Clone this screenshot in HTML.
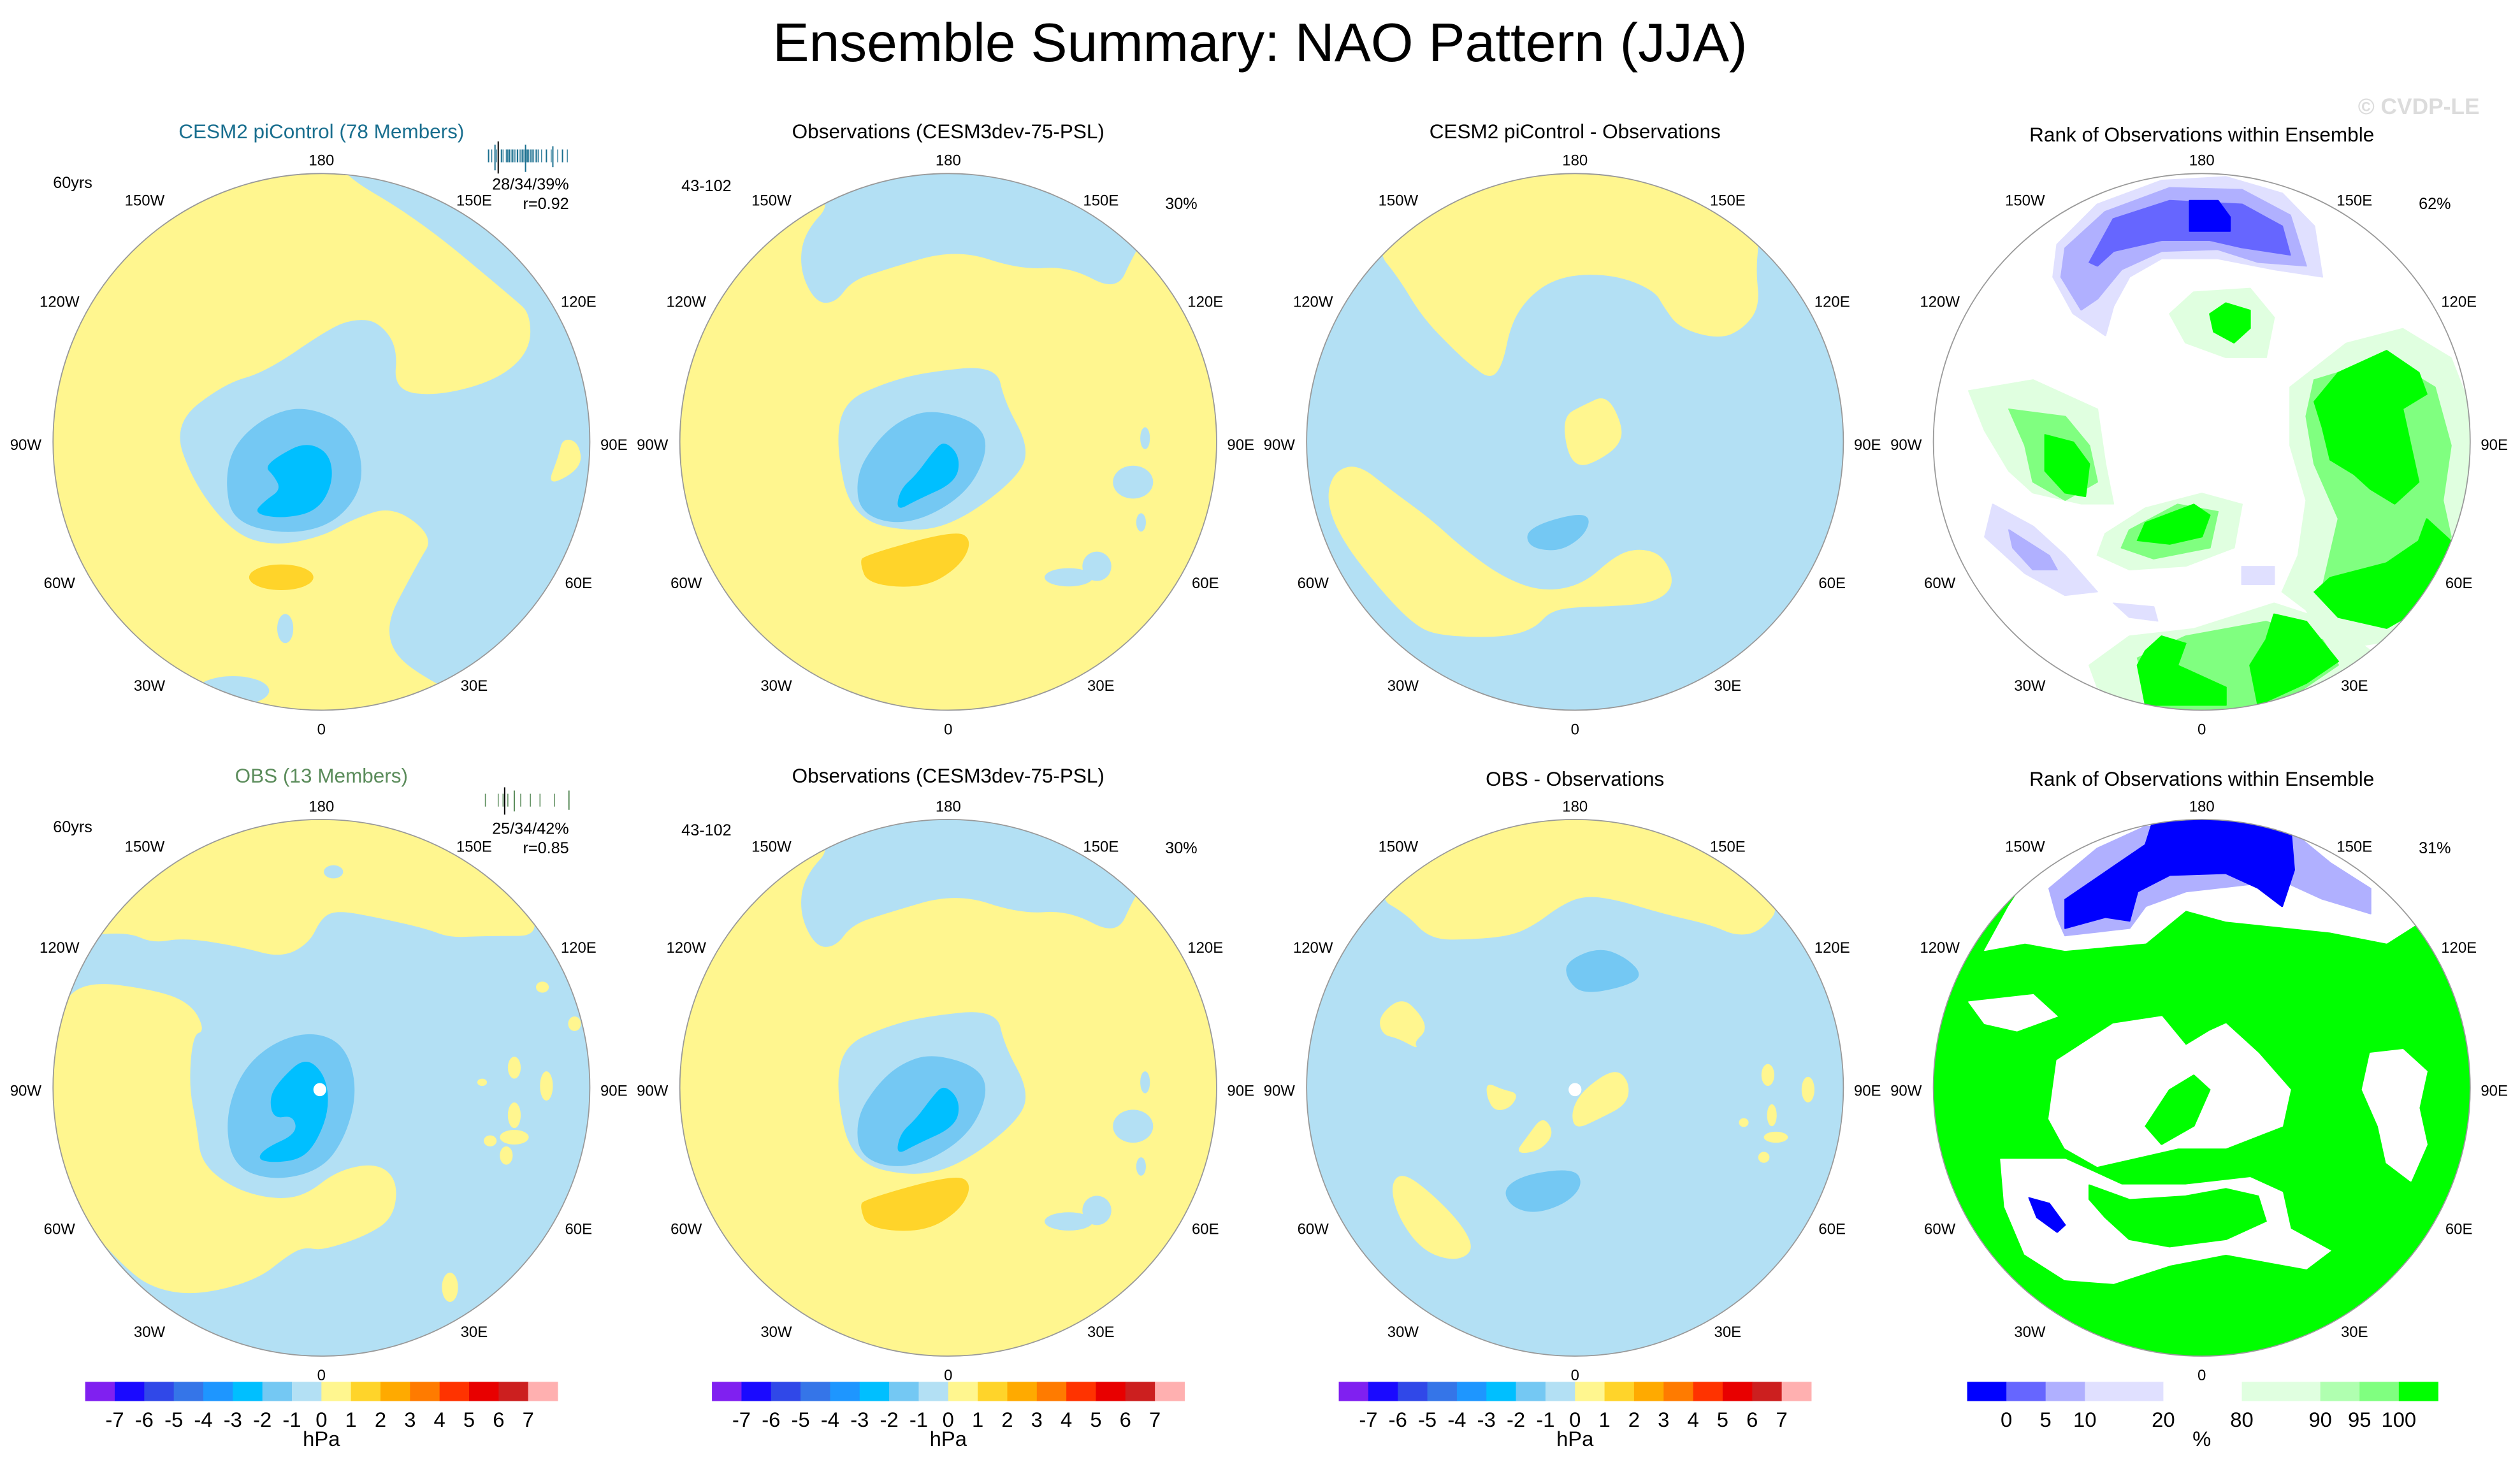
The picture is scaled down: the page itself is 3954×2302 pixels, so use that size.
<!DOCTYPE html>
<html><head><meta charset="utf-8">
<style>
html,body{margin:0;padding:0;background:#fff;}
svg{display:block;}
text{font-family:"Liberation Sans",sans-serif;}
</style></head>
<body>
<svg id="fig" width="3954" height="2302" viewBox="0 0 1568 913" preserveAspectRatio="none" xmlns="http://www.w3.org/2000/svg">
<text x="784" y="38" font-size="34" text-anchor="middle">Ensemble Summary: NAO Pattern (JJA)</text>
<text x="1505" y="71" font-size="14" font-weight="bold" fill="#dcdcdc" text-anchor="middle">© CVDP-LE</text>
<g id="panels"></g>
<g id="bars"></g>
</svg>
<script>
const NS='http://www.w3.org/2000/svg';
const Y='#fff68f',LB='#b3e0f4',M1='#74c8f3',M2='#00bfff',OR='#ffd42a';
const DB='#0000ff',B5='#6666ff',B10='#b0b0ff',B20='#e0e0ff',G80='#e0ffe0',G90='#b0ffb0',G95='#80ff80',G100='#00ff00';
// colorbar data
const hpaLevels=[-7,-6,-5,-4,-3,-2,-1,0,1,2,3,4,5,6,7];
const hpaColors=['#8020f0','#1a0aff','#3048e8','#3575e8','#1e96ff','#00bfff','#74c8f3','#b3e0f4','#fff68f','#ffd42a','#ffaa00','#ff7b00','#ff3300','#e80000','#cc1f1f','#ffb0b0'];
const rankLevels=[0,5,10,20,80,90,95,100];
const rankColors=['#0000ff','#6666ff','#b0b0ff','#e0e0ff','#ffffff','#e0ffe0','#b0ffb0','#80ff80','#00ff00'];
const rankWidths=[1,1,1,2,2,2,1,1,1];

let SMOOTH=true;
function el(tag,attrs,parent){const e=document.createElementNS(NS,tag);for(const k in attrs)e.setAttribute(k,attrs[k]);parent.appendChild(e);return e;}
function txt(parent,x,y,s,size,anchor,fill,name){const t=el('text',{x:x,y:y,'font-size':size,'text-anchor':anchor||'middle',fill:fill||'#000'},parent);t.textContent=s;


return t;}
function smoothPath(pts){
  const n=pts.length;const mid=(a,b)=>[(a[0]+b[0])/2,(a[1]+b[1])/2];
  let m=mid(pts[n-1],pts[0]);let d='M'+m[0]+','+m[1];
  for(let i=0;i<n;i++){const c=pts[i];const e=mid(c,pts[(i+1)%n]);d+=' Q'+c[0]+','+c[1]+' '+e[0]+','+e[1];}
  return d+'Z';
}
function poly(g,pts,fill,name){let p;
  if(SMOOTH){p=el('path',{d:smoothPath(pts),fill:fill},g);}
  else{p=el('polygon',{points:pts.map(a=>a.join(',')).join(' '),fill:fill,'stroke':fill,'stroke-width':2,'stroke-linejoin':'round'},g);}


return p;}
function ell(g,cx,cy,rx,ry,fill,name){const p=el('ellipse',{cx:cx,cy:cy,rx:rx,ry:ry,fill:fill},g);


return p;}

const panelsG=document.getElementById('panels');
let clipId=0;
function panel(cx,cy,cz,cy0,bg,draw,name,smooth){
  SMOOTH=smooth;
  const g=el('g',{},panelsG);
  
  
  const cp=el('clipPath',{id:'c'+(++clipId)},g);
  el('circle',{cx:cx,cy:cy,r:167},cp);
  const bgc=el('circle',{cx:cx,cy:cy,r:167,fill:bg},g);
  
  
  const cg=el('g',{'clip-path':'url(#c'+clipId+')'},g);
  const inner=el('g',{transform:`translate(${cx},${cy}) scale(0.5,${1/4.39}) translate(${-cz},${-cy0})`},cg);
  draw(inner);
  const border=el('circle',{cx:cx,cy:cy,r:167,fill:'none',stroke:'#999','stroke-width':0.7},g);
  
  
  const L=[['180',0,-172],['0',0,182],['150W',-110,-147],['150E',95,-147],['120W',-163,-84],['120E',160,-84],['90W',-184,5],['90E',182,5],['60W',-163,91],['60E',160,91],['30W',-107,155],['30E',95,155]];
  L.forEach(l=>txt(g,cx+l[1],cy+l[2],l[0],9.5,'middle','#000','lon-label'));
}

function drawA(g){
  poly(g,[[410,40],[520,180],[640,400],[660,440],[660,540],[620,620],[545,665],[490,650],[495,530],[470,460],[440,455],[410,480],[330,600],[280,630],[215,740],[240,900],[290,1040],[340,1075],[400,1050],[440,1000],[490,965],[540,1050],[520,1120],[470,1330],[540,1460],[800,1700],[1000,790],[800,-100],[420,-80]],LB,'negative-region');
  ell(g,290,1470,45,40,LB,'negative-region');
  ell(g,355,1300,10,40,LB,'negative-region');
  poly(g,[[700,780],[720,790],[725,860],[680,915],[695,830]],Y,'positive-region');
  poly(g,[[380,690],[440,750],[455,900],[420,1010],[360,1045],[290,1010],[280,900],[290,800],[330,720]],M1,'minus1-region');
  poly(g,[[380,790],[410,820],[415,900],[395,980],[350,1000],[315,985],[330,950],[350,920],[340,880],[330,860],[345,830]],M2,'minus2-region');
  ell(g,350,1160,40,35,OR,'plus1-region');
}
function drawB(g){
  poly(g,[[1040,125],[1000,220],[995,320],[1015,410],[1040,410],[1060,350],[1100,320],[1190,262],[1270,320],[1330,310],[1390,380],[1410,280],[1470,60],[1180,0],[960,60]],LB,'negative-region');
  poly(g,[[1150,600],[1240,580],[1250,680],[1280,800],[1270,880],[1200,1000],[1140,1040],[1060,1000],[1040,800],[1050,680],[1100,630]],LB,'negative-region');
  poly(g,[[1160,700],[1220,740],[1230,820],[1200,940],[1130,1020],[1070,990],[1065,880],[1090,790],[1120,730]],M1,'minus1-region');
  poly(g,[[1175,785],[1195,830],[1190,900],[1140,950],[1115,980],[1120,920],[1140,880],[1160,820]],M2,'minus2-region');
  poly(g,[[1075,1100],[1190,1030],[1210,1060],[1195,1130],[1150,1190],[1080,1180],[1070,1120]],OR,'plus1-region');
  ell(g,1410,900,25,45,LB,'negative-spot');
  ell(g,1425,780,6,30,LB,'negative-spot');
  ell(g,1420,1010,6,25,LB,'negative-spot');
  ell(g,1330,1160,30,25,LB,'negative-spot');
  ell(g,1365,1130,18,40,LB,'negative-spot');
}
function drawC(g){
  poly(g,[[140,260],[200,60],[390,20],[560,60],[620,220],[615,320],[620,420],[600,480],[570,510],[520,480],[500,420],[490,380],[450,340],[400,330],[360,350],[330,400],[310,470],[300,580],[285,620],[260,580],[240,540],[200,450],[170,340]],Y,'positive-region');
  poly(g,[[430,660],[450,750],[445,800],[420,840],[395,860],[380,820],[375,720],[400,690]],Y,'positive-region');
  poly(g,[[120,850],[160,920],[210,1000],[250,1080],[300,1160],[350,1200],[400,1180],[440,1100],[470,1080],[500,1100],[515,1180],[490,1230],[430,1240],[400,1240],[360,1250],[340,1300],[300,1325],[220,1320],[190,1290],[150,1200],[100,1060],[80,950],[90,870]],Y,'positive-region');
  poly(g,[[395,985],[410,1000],[400,1050],[370,1090],[335,1080],[328,1040],[350,1010]],M1,'minus1-region');
}
function drawD(g){
  poly(g,[[880,650],[960,620],[1040,700],[1050,850],[1060,960],[1020,960],[960,930],[930,870],[900,760]],G80,'rank-80-90');
  poly(g,[[1130,440],[1160,380],[1230,370],[1260,450],[1250,560],[1200,560],[1150,520]],G80,'rank-80-90');
  poly(g,[[1280,640],[1350,520],[1420,480],[1480,560],[1505,700],[1505,1000],[1480,1250],[1420,1330],[1330,1360],[1300,1250],[1270,1200],[1290,1100],[1300,950],[1280,800]],G80,'rank-80-90');
  poly(g,[[1050,1040],[1100,970],[1170,930],[1220,960],[1210,1080],[1150,1130],[1080,1140],[1040,1100]],G80,'rank-80-90');
  poly(g,[[1030,1400],[1080,1320],[1160,1300],[1260,1230],[1330,1280],[1380,1360],[1330,1440],[1250,1540],[1100,1540],[1040,1460]],G80,'rank-80-90');
  poly(g,[[1310,620],[1400,560],[1460,640],[1480,800],[1470,950],[1480,1050],[1440,1200],[1360,1260],[1320,1190],[1340,1000],[1310,850],[1300,720]],G95,'rank-95-100');
  poly(g,[[930,700],[1000,720],[1030,800],[1040,900],[1000,950],[960,900],[950,800]],G95,'rank-95-100');
  poly(g,[[1080,1030],[1140,960],[1190,980],[1180,1080],[1110,1110],[1070,1080]],G95,'rank-95-100');
  poly(g,[[1090,1380],[1150,1320],[1250,1280],[1320,1330],[1340,1400],[1260,1520],[1110,1530]],G95,'rank-95-100');
  poly(g,[[1340,600],[1400,540],[1440,600],[1450,660],[1420,700],[1430,800],[1440,900],[1410,960],[1380,920],[1360,880],[1330,840],[1320,750],[1310,680]],G100,'rank-100');
  poly(g,[[1450,1000],[1480,1060],[1470,1150],[1440,1250],[1400,1300],[1340,1270],[1310,1200],[1330,1160],[1400,1120],[1440,1060]],G100,'rank-100');
  poly(g,[[1120,1320],[1150,1340],[1140,1400],[1200,1460],[1200,1510],[1100,1510],[1090,1400],[1100,1360]],G100,'rank-100');
  poly(g,[[1260,1260],[1300,1280],[1340,1390],[1300,1450],[1240,1510],[1230,1400],[1250,1330]],G100,'rank-100');
  poly(g,[[1200,410],[1230,430],[1230,480],[1210,520],[1185,490],[1180,440]],G100,'rank-100');
  poly(g,[[1160,960],[1180,990],[1170,1050],[1130,1070],[1090,1060],[1100,1010]],G100,'rank-100');
  poly(g,[[975,770],[1010,790],[1030,850],[1025,940],[1000,930],[975,870]],G100,'rank-100');
  poly(g,[[990,250],[1040,140],[1120,75],[1200,65],[1270,110],[1310,200],[1320,340],[1260,320],[1190,290],[1120,290],[1080,340],[1060,420],[1050,500],[1010,440],[985,340]],B20,'rank-10-20');
  poly(g,[[1000,260],[1050,160],[1130,95],[1220,100],[1280,170],[1300,310],[1240,300],[1190,265],[1120,270],[1070,320],[1040,400],[1020,430],[995,340]],B10,'rank-5-10');
  poly(g,[[1030,300],[1060,180],[1130,130],[1220,140],[1270,200],[1280,280],[1220,260],[1180,240],[1120,240],[1060,270],[1040,310]],B5,'rank-0-5');
  poly(g,[[1155,130],[1190,130],[1205,175],[1205,215],[1155,215]],DB,'rank-0');
  poly(g,[[910,960],[960,1020],[1000,1100],[1040,1200],[1000,1210],[950,1150],[900,1050]],B20,'rank-10-20');
  poly(g,[[930,1030],[980,1100],[990,1140],[960,1140],[935,1080]],B10,'rank-5-10');
  poly(g,[[1060,1230],[1110,1240],[1115,1280],[1080,1270]],B20,'rank-10-20');
  poly(g,[[1220,1130],[1260,1130],[1260,1180],[1220,1180]],B20,'rank-10-20');
}
function drawE(g){
  poly(g,[[200,100],[390,20],[580,80],[690,380],[600,380],[560,385],[530,360],[470,330],[420,310],[400,330],[385,400],[350,440],[300,410],[230,385],[190,400],[160,370],[100,380],[130,250]],Y,'positive-region');
  poly(g,[[100,500],[200,530],[240,570],[255,640],[240,650],[235,790],[245,900],[250,1000],[290,1070],[340,1100],[380,1090],[420,1020],[470,1000],[495,1050],[490,1150],[455,1200],[400,1240],[380,1230],[360,1250],[320,1320],[250,1360],[200,1350],[160,1300],[80,1100],[40,900],[40,700],[70,600]],Y,'positive-region');
  ell(g,415,205,12,18,LB,'negative-spot');
  [[640,740,8,30],[680,790,8,40],[600,780,6,10],[640,870,8,35],[610,940,8,15],[640,930,18,20],[630,980,8,25],[715,620,8,20],[675,520,8,15],[560,1340,10,40]].forEach(e=>ell(g,e[0],e[1],e[2],e[3],Y,'positive-spot'));
  poly(g,[[390,640],[430,680],[445,800],[430,930],[400,1020],[340,1050],[290,1010],[280,880],[300,750],[340,670]],M1,'minus1-region');
  poly(g,[[380,710],[405,760],[410,850],[395,940],[375,990],[340,1000],[320,990],[330,960],[370,920],[365,870],[340,880],[335,820],[350,770]],M2,'minus2-region');
  ell(g,398,800,8,18,'#ffffff','missing-data');
}
function drawG(g){
  poly(g,[[140,270],[210,60],[390,20],[580,80],[650,290],[620,370],[590,380],[560,350],[500,320],[440,280],[400,270],[370,300],[340,350],[310,380],[260,390],[210,390],[180,320]],Y,'positive-region');
  poly(g,[[420,410],[455,440],[475,490],[450,520],[400,540],[380,500],[378,450]],M1,'minus1-region');
  poly(g,[[175,545],[200,600],[205,640],[190,670],[195,690],[170,660],[150,650],[145,600]],Y,'positive-region');
  poly(g,[[440,740],[458,780],[455,840],[420,880],[390,910],[385,860],[400,800]],Y,'positive-region');
  poly(g,[[350,870],[365,920],[345,970],[315,975],[330,930]],Y,'positive-region');
  poly(g,[[280,780],[300,800],[320,810],[310,850],[290,860],[280,820]],Y,'positive-region');
  ell(g,390,800,8,18,'#ffffff','missing-data');
  poly(g,[[390,1015],[400,1060],[380,1110],[340,1140],[310,1120],[300,1070],[330,1030]],M1,'minus1-region');
  poly(g,[[175,1025],[210,1080],[250,1170],[265,1240],[240,1270],[200,1240],[170,1150],[160,1060]],Y,'positive-region');
  [[630,760,8,30],[680,800,8,35],[635,870,6,30],[640,930,15,15],[625,985,7,15],[600,890,6,12]].forEach(e=>ell(g,e[0],e[1],e[2],e[3],Y,'positive-spot'));
}
function drawH(g){
  poly(g,[[960,200],[1000,130],[1100,60],[1260,70],[1380,180],[1450,330],[1400,400],[1330,370],[1200,340],[1150,310],[1100,400],[1000,420],[950,400],[900,420],[930,300]],'#ffffff','rank-20-80');
  poly(g,[[980,250],[1040,140],[1100,80],[1280,90],[1330,180],[1380,250],[1380,320],[1320,280],[1280,240],[1230,240],[1150,260],[1100,300],[1080,360],[1000,380],[990,330]],B10,'rank-5-10');
  poly(g,[[1000,280],[1060,190],[1100,130],[1110,60],[1280,70],[1285,200],[1270,300],[1240,250],[1200,210],[1130,215],[1090,260],[1080,340],[1050,330],[1000,360]],DB,'rank-0');
  poly(g,[[990,720],[1060,620],[1120,600],[1150,680],[1180,640],[1200,620],[1240,700],[1280,800],[1270,900],[1200,960],[1140,960],[1100,980],[1040,1010],[1000,960],[980,880]],'#ffffff','rank-20-80');
  poly(g,[[1100,900],[1130,800],[1160,760],[1180,800],[1160,900],[1120,950]],G100,'rank-100');
  poly(g,[[920,990],[1000,990],[1070,1060],[1150,1060],[1230,1040],[1270,1080],[1280,1180],[1330,1240],[1300,1290],[1200,1250],[1130,1280],[1060,1330],[1000,1320],[950,1250],[925,1120]],'#ffffff','rank-20-80');
  poly(g,[[1030,1060],[1080,1100],[1150,1090],[1200,1070],[1240,1090],[1250,1160],[1200,1210],[1130,1230],[1080,1210],[1050,1150],[1030,1100]],G100,'rank-100');
  poly(g,[[955,1095],[980,1110],[1000,1170],[990,1190],[965,1150]],DB,'rank-0');
  poly(g,[[1380,700],[1420,690],[1450,750],[1440,850],[1450,950],[1430,1050],[1400,1000],[1390,900],[1370,800]],'#ffffff','rank-20-80');
  poly(g,[[880,560],[960,540],[990,600],[940,640],[900,620]],'#ffffff','rank-20-80');
}

const cols=[200,590,980,1370];
panel(200,275,400,790,Y,drawA,'map-cesm2-picontrol',true);
panel(590,275,1180,790,Y,drawB,'map-observations-top',true);
panel(980,275,390,790,LB,drawC,'map-cesm2-minus-obs',true);
panel(1370,275,1170,790,'#ffffff',drawD,'map-rank-top',false);
panel(200,677,400,795,LB,drawE,'map-obs-ensemble',true);
panel(590,677,1180,795,Y,drawB,'map-observations-bottom',true);
panel(980,677,390,795,LB,drawG,'map-obs-minus-obs',true);
panel(1370,677,1170,795,G100,drawH,'map-rank-bottom',false);

// titles and annotations
const ann=document.getElementById('panels');
[[0,'CESM2 piControl (78 Members)','#1a6f8f'],[1,'Observations (CESM3dev-75-PSL)','#000'],[2,'CESM2 piControl - Observations','#000'],[3,'Rank of Observations within Ensemble','#000']].forEach(t=>txt(ann,cols[t[0]],86+(t[0]==3?2:0),t[1],12.5,'middle',t[2],'panel-title'));
[[0,'OBS (13 Members)','#5b8c5b'],[1,'Observations (CESM3dev-75-PSL)','#000'],[2,'OBS - Observations','#000'],[3,'Rank of Observations within Ensemble','#000']].forEach(t=>txt(ann,cols[t[0]],487+(t[0]>=2?2:0),t[1],12.5,'middle',t[2],'panel-title'));
[0,401].forEach(dy=>{
  txt(ann,33,117+dy,'60yrs',10,'start','#000','years-label');
  txt(ann,424,119+dy,'43-102',10,'start','#000','years-label');
  txt(ann,735,130+dy,'30%',10,'middle','#000','percent-label');
});
txt(ann,354,118,'28/34/39%',10,'end','#000','percent-label');
txt(ann,354,130,'r=0.92',10,'end','#000','corr-label');
txt(ann,354,519,'25/34/42%',10,'end','#000','percent-label');
txt(ann,354,531,'r=0.85',10,'end','#000','corr-label');
txt(ann,1515,130,'62%',10,'middle','#000','percent-label');
txt(ann,1515,531,'31%',10,'middle','#000','percent-label');
// barcodes
const bc1=[304,306,309,312,313,315,316,317,318,319,320,321,322,323,324,325,326,327,328,329,330,331,332,333,334,335,337,340,343,347,350,353];
const bc2=[302,310,313,316,320,324,330,336,345,354];
const bg1=el('g',{},ann);


bc1.forEach((x,i)=>el('line',{x1:x,x2:x,y1:93,y2:101,stroke:'#1a6f8f','stroke-width':(i%3==0?0.8:0.5)},bg1));
[[308,90,106,'#1a6f8f'],[310,88,108,'#000'],[327,90,107,'#1a6f8f'],[344,91,104,'#1a6f8f']].forEach(l=>el('line',{x1:l[0],x2:l[0],y1:l[1],y2:l[2],stroke:l[3],'stroke-width':0.8},bg1));
const bg2=el('g',{},ann);


bc2.forEach(x=>el('line',{x1:x,x2:x,y1:494,y2:502,stroke:'#5b8c5b','stroke-width':0.6},bg2));
[[314,490,507,'#000'],[320,492,505,'#5b8c5b'],[354,492,504,'#5b8c5b']].forEach(l=>el('line',{x1:l[0],x2:l[0],y1:l[1],y2:l[2],stroke:l[3],'stroke-width':0.8},bg2));

// colorbars
const bars=document.getElementById('bars');
[53,443,833].forEach((x0,ci)=>{
  const g=el('g',{},bars);
  
  
  const w=294/hpaColors.length;
  hpaColors.forEach((c,i)=>{const r=el('rect',{x:x0+i*w,y:860,width:w+0.2,height:12,fill:c},g);
    
    });
  hpaLevels.forEach((v,i)=>txt(g,x0+(i+1)*w,888,String(v),13,'middle','#000','colorbar-tick'));
  txt(g,x0+147,900,'hPa',13,'middle','#000','colorbar-unit');
});
(function(){
  const g=el('g',{},bars);
  
  
  const unit=293/rankWidths.reduce((a,b)=>a+b,0);
  let x=1224;const edges=[];
  rankColors.forEach((c,i)=>{const w=rankWidths[i]*unit;const r=el('rect',{x:x,y:860,width:w+0.2,height:12,fill:c},g);
    
    
    x+=w;edges.push(x);});
  rankLevels.forEach((v,i)=>txt(g,edges[i],888,String(v),13,'middle','#000','colorbar-tick'));
  txt(g,1370,900,'%',13,'middle','#000','colorbar-unit');
})();
</script>
</body></html>
